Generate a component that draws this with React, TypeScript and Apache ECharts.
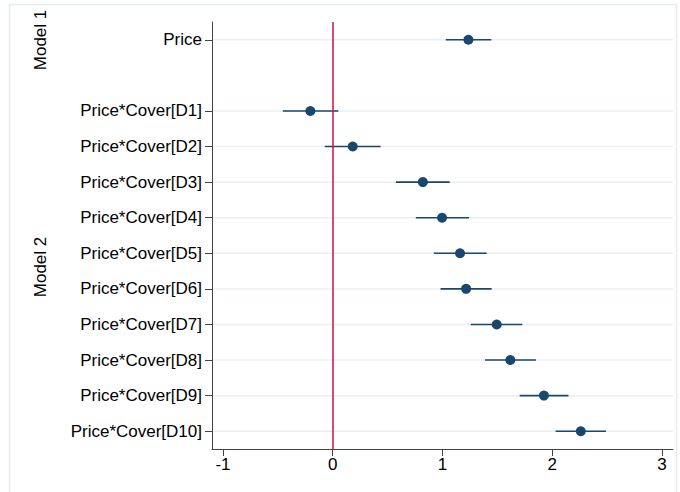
import React, { useEffect, useRef } from "react";
import * as echarts from "echarts";

const categories = [
  "Price",
  "",
  "Price*Cover[D1]",
  "Price*Cover[D2]",
  "Price*Cover[D3]",
  "Price*Cover[D4]",
  "Price*Cover[D5]",
  "Price*Cover[D6]",
  "Price*Cover[D7]",
  "Price*Cover[D8]",
  "Price*Cover[D9]",
  "Price*Cover[D10]",
];
const estimates = [1.236, null, -0.204, 0.182, 0.821, 0.996, 1.16, 1.215, 1.494, 1.618, 1.924, 2.26];
const lower = [1.03, null, -0.455, -0.073, 0.575, 0.757, 0.921, 0.982, 1.257, 1.387, 1.703, 2.03];
const upper = [1.445, null, 0.051, 0.436, 1.066, 1.242, 1.403, 1.448, 1.727, 1.851, 2.148, 2.49];
const xTicks = [-1, 0, 1, 2, 3];
const xMin = -1.1;
const xMax = 3.1;
const groupLabels = ["Model 1", "Model 2"];

const NAVY = "#1a476f";
const FONT = "Liberation Sans, Arial, Helvetica, sans-serif";
const FS = 17;

export default function App() {
  const ref = useRef<HTMLDivElement>(null);

  useEffect(() => {
    if (!ref.current) return;
    const chart = echarts.init(ref.current, undefined, { renderer: "svg" });

    const pointData: any[] = [];
    const ciData: any[] = [];
    const gridData: any[] = [];
    categories.forEach((c, i) => {
      if (c === "") return;
      gridData.push([xMin, xMax, i]);
      if (estimates[i] !== null) {
        pointData.push([estimates[i], i]);
        ciData.push([lower[i], upper[i], i]);
      }
    });

    chart.setOption({
      animation: false,
      grid: { left: 212, top: 22, right: 7, bottom: 43, containLabel: false },
      xAxis: {
        type: "value",
        min: xMin,
        max: xMax,
        axisLine: { show: true, onZero: false, lineStyle: { color: "#444", width: 1 } },
        axisTick: { show: true, length: 7, customValues: xTicks, lineStyle: { color: "#444" } },
        axisLabel: {
          customValues: xTicks,
          color: "#000",
          fontSize: FS,
          fontFamily: FONT,
          margin: 7,
        },
        splitLine: { show: false },
      },
      yAxis: {
        type: "category",
        data: categories,
        inverse: true,
        boundaryGap: true,
        axisLine: { show: true, onZero: false, lineStyle: { color: "#444", width: 1 } },
        axisTick: {
          show: true,
          alignWithLabel: true,
          length: 7,
          interval: (idx: number, val: string) => val !== "",
          lineStyle: { color: "#444" },
        },
        axisLabel: {
          color: "#000",
          fontSize: FS,
          fontFamily: FONT,
          margin: 10,
          interval: 0,
        },
        splitLine: { show: false },
      },
      graphic: [
        {
          type: "rect",
          shape: { x: 9.5, y: 4.5, width: 667, height: 520 },
          style: { fill: "none", stroke: "#e3ecee", lineWidth: 1.5 },
          silent: true,
          z: -10,
        },
        {
          type: "text",
          x: 40,
          y: 40,
          rotation: Math.PI / 2,
          style: {
            text: groupLabels[0],
            fontSize: FS,
            fontFamily: FONT,
            fill: "#000",
            align: "center",
            verticalAlign: "middle",
          },
        },
        {
          type: "text",
          x: 40,
          y: 267,
          rotation: Math.PI / 2,
          style: {
            text: groupLabels[1],
            fontSize: FS,
            fontFamily: FONT,
            fill: "#000",
            align: "center",
            verticalAlign: "middle",
          },
        },
      ],
      series: [
        {
          type: "custom",
          name: "grid",
          silent: true,
          z: 0,
          data: gridData,
          encode: { x: [0, 1], y: 2 },
          renderItem: (params: any, api: any) => {
            const a = api.coord([api.value(0), api.value(2)]);
            const b = api.coord([api.value(1), api.value(2)]);
            return {
              type: "line",
              shape: { x1: a[0] + 1, y1: a[1], x2: b[0], y2: b[1] },
              style: { stroke: "#eaf0f2", lineWidth: 1.5 },
            };
          },
        },
        {
          type: "custom",
          name: "ci",
          silent: true,
          z: 2,
          data: ciData,
          encode: { x: [0, 1], y: 2 },
          renderItem: (params: any, api: any) => {
            const a = api.coord([api.value(0), api.value(2)]);
            const b = api.coord([api.value(1), api.value(2)]);
            return {
              type: "line",
              shape: { x1: a[0], y1: a[1], x2: b[0], y2: b[1] },
              style: { stroke: NAVY, lineWidth: 1.6 },
            };
          },
        },
        {
          type: "scatter",
          name: "estimate",
          z: 4,
          symbol: "circle",
          symbolSize: 10,
          itemStyle: { color: NAVY, opacity: 1 },
          data: pointData,
          markLine: {
            silent: true,
            symbol: "none",
            label: { show: false },
            lineStyle: { color: "#d5103a", width: 1.5, type: "solid", opacity: 1 },
            data: [{ xAxis: 0 }],
            z: 5,
          },
        },
      ],
    });

    return () => chart.dispose();
  }, []);

  return (
    <div
      ref={ref}
      style={{ position: "fixed", left: 0, top: 0, width: 680, height: 492, background: "#fff" }}
    />
  );
}
